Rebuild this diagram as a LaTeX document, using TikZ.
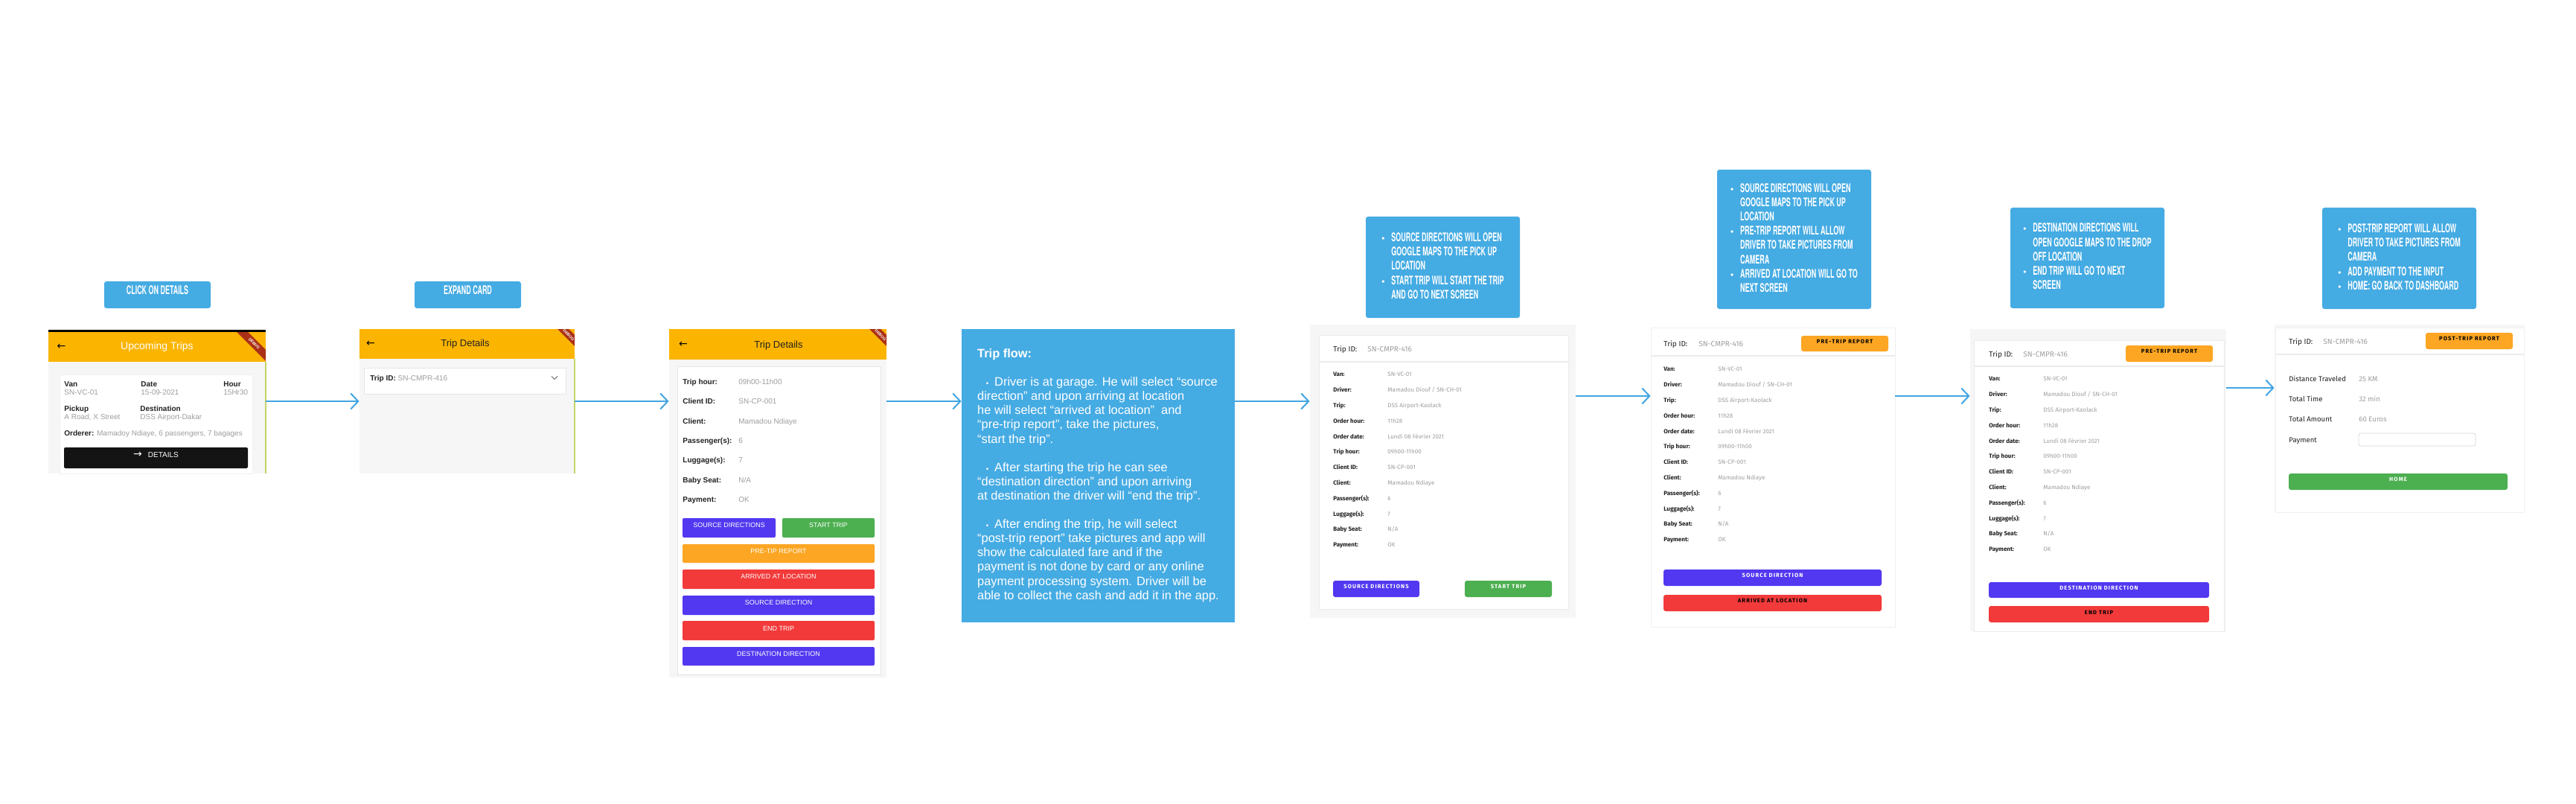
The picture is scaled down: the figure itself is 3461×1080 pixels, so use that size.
\documentclass[tikz,border=0pt]{standalone}
\usepackage{fontspec}
\setmainfont{Liberation Sans}
\newfontfamily\notefont[FakeStretch=0.56]{TeX Gyre Heros}
\newfontfamily\appfont{Fira Sans}
\newfontfamily\btnfont[LetterSpace=15]{Fira Sans}
\newfontfamily\symfont{DejaVu Sans}
\usetikzlibrary{positioning,fit,arrows.meta}

\definecolor{noteblue}{RGB}{69,171,227}
\definecolor{arrowblue}{RGB}{66,165,225}
\definecolor{bar}{RGB}{251,180,0}
\definecolor{ribbon}{RGB}{170,48,24}
\definecolor{appbg}{RGB}{246,246,246}
\definecolor{valgray}{RGB}{158,158,158}
\definecolor{labelink}{RGB}{34,34,34}
\definecolor{btnpurple}{RGB}{82,56,240}
\definecolor{btngreen}{RGB}{76,175,80}
\definecolor{btnorange}{RGB}{252,166,35}
\definecolor{btnred}{RGB}{242,58,58}
\definecolor{edgegreen}{RGB}{196,212,100}

\newcommand{\notebullet}{\makebox[6.5pt][l]{\normalfont\fontsize{6}{6}\selectfont\textbullet}}
\newcommand{\noteindent}{\makebox[6.5pt]{}}
\newcommand{\flowbullet}{\makebox[11.5pt][r]{\scalebox{0.6}{\textbullet}\hspace{4pt}}}

\begin{document}
\begin{tikzpicture}[x=0.5pt, y=-0.5pt,
    note/.style={fill=noteblue, rounded corners=1.5pt, inner sep=0pt, text=white,
      font=\notefont\bfseries\fontsize{8}{9.6}\selectfont},
    screen/.style={fill=appbg, inner sep=0pt},
    btn/.style={fill=#1, rounded corners=1pt, inner sep=0pt, text=white, font=\fontsize{4.5}{5}\selectfont},
    appbtn/.style={fill=#1, rounded corners=1.5pt, inner sep=0pt, text=white, font=\btnfont\bfseries\fontsize{3.8}{4}\selectfont},
    icon/.style={inner sep=0pt, font=\symfont\fontsize{7}{8}\selectfont},
    title/.style={inner sep=0pt, font=\fontsize{6.5}{8}\selectfont},
    lab/.style={anchor=base west, inner sep=0pt, text=labelink, font=\bfseries\fontsize{5}{6}\selectfont},
    val/.style={anchor=base west, inner sep=0pt, text=valgray, font=\fontsize{5}{6}\selectfont},
    appid/.style={anchor=base west, inner sep=0pt, text=labelink, font=\appfont\fontsize{5}{6}\selectfont},
    applab/.style={anchor=base west, inner sep=0pt, text=labelink, font=\appfont\bfseries\fontsize{4}{5}\selectfont},
    appval/.style={anchor=base west, inner sep=0pt, text=valgray, font=\appfont\fontsize{4}{5}\selectfont},
    link/.style={draw=arrowblue, line width=1pt, -{Straight Barb[length=5pt,width=10.5pt]}}]

\fill[white] (0,0) rectangle (3461,1080);
\useasboundingbox (0,0) rectangle (3461,1080);

% notes above the screens
\node[note, fit={(140,378) (283,414)}] (ClickNote) {CLICK ON DETAILS};
\node[note, fit={(557,378) (700,414)}] (ExpandNote) {EXPAND CARD};
\node[note, minimum width=103.5pt, minimum height=68pt] (StartNote) at (1938.5,359) {\begin{tabular}{@{}l@{}}
  \notebullet SOURCE DIRECTIONS WILL OPEN\\ \noteindent GOOGLE MAPS TO THE PICK UP\\ \noteindent LOCATION\\
  \notebullet START TRIP WILL START THE TRIP\\ \noteindent AND GO TO NEXT SCREEN\end{tabular}};
\node[note, minimum width=103.5pt, minimum height=93.5pt] (ArrivedNote) at (2410.5,321.5) {\begin{tabular}{@{}l@{}}
  \notebullet SOURCE DIRECTIONS WILL OPEN\\ \noteindent GOOGLE MAPS TO THE PICK UP\\ \noteindent LOCATION\\
  \notebullet PRE-TRIP REPORT WILL ALLOW\\ \noteindent DRIVER TO TAKE PICTURES FROM\\ \noteindent CAMERA\\
  \notebullet ARRIVED AT LOCATION WILL GO TO\\ \noteindent NEXT SCREEN\end{tabular}};
\node[note, minimum width=103.5pt, minimum height=67.5pt] (EndNote) at (2804.5,346.5) {\begin{tabular}{@{}l@{}}
  \notebullet DESTINATION DIRECTIONS WILL\\ \noteindent OPEN GOOGLE MAPS TO THE DROP\\ \noteindent OFF LOCATION\\
  \notebullet END TRIP WILL GO TO NEXT\\ \noteindent SCREEN\end{tabular}};
\node[note, minimum width=103.5pt, minimum height=68pt] (PostNote) at (3223.5,347) {\begin{tabular}{@{}l@{}}
  \notebullet POST-TRIP REPORT WILL ALLOW\\ \noteindent DRIVER TO TAKE PICTURES FROM\\ \noteindent CAMERA\\
  \notebullet ADD PAYMENT TO THE INPUT\\ \notebullet HOME: GO BACK TO DASHBOARD\end{tabular}};

% screen 1: upcoming trips
\node[screen, fit={(65,443) (357,636)}] (Upcoming) {};
\fill[black] (65,443) rectangle (357,446.5);
\fill[bar] (65,446) rectangle (357,486);
\begin{scope}
  \clip (65,446) rectangle (357,636);
  \fill[ribbon] (318,446) -- (333,446) -- (357,470) -- (357,485) -- cycle;
  \node[rotate=-45, inner sep=0pt, text=white, font=\bfseries\fontsize{2.6}{3}\selectfont] (DebugA) at (341.5,461.5) {DEBUG};
\end{scope}
\node[icon] (BackA) at (82.5,466) {←};
\node[title, text=white, font=\fontsize{7}{8}\selectfont] (TitleA) at (211,466) {Upcoming Trips};
\filldraw[fill=white, draw=black!6] (80,503) rectangle (339,636);
\node[lab] (VanA) at (86,519.6) {Van};
\node[val] (VanB) at (86,530.6) {SN-VC-01};
\node[lab] (DateA) at (189,519.6) {Date};
\node[val] (DateB) at (189,530.6) {15-09-2021};
\node[lab] (HourA) at (300,519.6) {Hour};
\node[val] (HourB) at (300,530.6) {15Hr30};
\node[lab] (PickA) at (86,552.6) {Pickup};
\node[val] (PickB) at (86,563.6) {A Road, X Street};
\node[lab] (DestA) at (188,552.6) {Destination};
\node[val] (DestB) at (188,563.6) {DSS Airport-Dakar};
\node[lab] (OrderA) at (86,585.6) {Orderer: \textcolor{valgray}{\mdseries Mamadoy Ndiaye, 6 passengers, 7 bagages}};
\node[btn=black!92, fit={(86,601) (333,629)}, font=\fontsize{5}{6}\selectfont] (DetailsBtn) {{\symfont\fontsize{7}{7}\selectfont →}\hspace{4pt}DETAILS};
\draw[edgegreen, line width=0.6pt] (357,486) -- (357,636);

% screen 2: trip details, card closed
\node[screen, fit={(483,442) (772,636)}] (Expand) {};
\fill[bar] (483,442) rectangle (772,482);
\begin{scope}
  \clip (483,442) rectangle (772,482);
  \fill[ribbon] (741,434) -- (756,434) -- (780,458) -- (780,473) -- cycle;
  \node[rotate=-45, inner sep=0pt, text=white, font=\bfseries\fontsize{2.6}{3}\selectfont] (DebugB) at (764,450) {DEBUG};
\end{scope}
\node[icon] (BackB) at (498,462) {←};
\node[title, text=labelink] (TitleB) at (625,462) {Trip Details};
\filldraw[fill=white, draw=black!10] (489,494) rectangle (760,529);
\node[lab] (TripIdB) at (497,511.5) {Trip ID: \textcolor{valgray}{\mdseries SN-CMPR-416}};
\draw[black!60, line width=0.5pt] (741,505.5) -- (745,509.5) -- (749,505.5);
\draw[edgegreen, line width=0.6pt] (772,482) -- (772,636);

% screen 3: trip details, card open
\node[screen, fit={(899,442) (1191,910)}] (Details) {};
\fill[bar] (899,442) rectangle (1191,483);
\begin{scope}
  \clip (899,442) rectangle (1191,483);
  \fill[ribbon] (1160,434) -- (1175,434) -- (1199,458) -- (1199,473) -- cycle;
  \node[rotate=-45, inner sep=0pt, text=white, font=\bfseries\fontsize{2.6}{3}\selectfont] (DebugC) at (1183,450) {DEBUG};
\end{scope}
\node[icon] (BackC) at (918,463) {←};
\node[title, text=labelink] (TitleC) at (1046,464) {Trip Details};
\filldraw[fill=white, draw=black!10] (910,492) rectangle (1183,906);
\foreach \lab/\val [count=\i from 0] in {Trip hour:/09h00-11h00, Client ID:/SN-CP-001, Client:/Mamadou Ndiaye, Passenger(s):/6, Luggage(s):/7, Baby Seat:/{N/A}, Payment:/OK} {
  \node[lab] (DetLab\i) at (917,{516.6+26.3*\i}) {\lab};
  \node[val] (DetVal\i) at (992,{516.6+26.3*\i}) {\val};
}
\node[btn=btnpurple, fit={(917,696) (1042,722)}] (SrcBtnA) {SOURCE DIRECTIONS};
\node[btn=btngreen, fit={(1051,696) (1175,722)}] (StartBtnA) {START TRIP};
\node[btn=btnorange, fit={(917,731) (1175,756)}] (PreBtnA) {PRE-TIP REPORT};
\node[btn=btnred, fit={(917,765) (1175,791)}] (ArrBtnA) {ARRIVED AT LOCATION};
\node[btn=btnpurple, fit={(917,800) (1175,826)}] (SrcTwoBtnA) {SOURCE DIRECTION};
\node[btn=btnred, fit={(917,834) (1175,860)}] (EndBtnA) {END TRIP};
\node[btn=btnpurple, fit={(917,869) (1175,894)}] (DestBtnA) {DESTINATION DIRECTION};

% trip flow
\node[note, rounded corners=0pt, minimum width=183.5pt, minimum height=197pt, font=\fontsize{8.2}{9.55}\selectfont] (Flow) at (1475.5,639) {\begin{tabular}{@{}l@{}}
{\bfseries Trip flow:}\\[9.55pt]
\flowbullet Driver is at garage. He will select “source\\
direction” and upon arriving at location\\
he will select “arrived at location”\ \ and\\
“pre-trip report”, take the pictures,\\
“start the trip”.\\[9.55pt]
\flowbullet After starting the trip he can see\\
“destination direction” and upon arriving\\
at destination the driver will “end the trip”.\\[9.55pt]
\flowbullet After ending the trip, he will select\\
“post-trip report” take pictures and app will\\
show the calculated fare and if the\\
payment is not done by card or any online\\
payment processing system. Driver will be\\
able to collect the cash and add it in the app.\end{tabular}};

% screen 5: start trip
\node[screen, fit={(1760,436) (2117,830)}] (Start) {};
\filldraw[fill=white, draw=black!8] (1772,450) rectangle (2107,818);
\node[appid] (StartId) at (1791,472.4) {Trip ID:};
\node[appid, text=valgray] (StartIdVal) at (1837,472.4) {SN-CMPR-416};
\draw[black!8, line width=1pt] (1772,486) -- (2107,486);
\node[appbtn=btnpurple, fit={(1791,780) (1907,802)}] (SrcBtnB) {SOURCE DIRECTIONS};
\node[appbtn=btngreen, fit={(1968,780) (2085,802)}] (StartBtnB) {START TRIP};

% screen 6: arrived at location
\node[fill=white, draw=black!6, inner sep=0pt, fit={(2218,440) (2546,842)}] (Arrived) {};
\node[appid] (ArrivedId) at (2235,465.4) {Trip ID:};
\node[appid, text=valgray] (ArrivedIdVal) at (2282,465.4) {SN-CMPR-416};
\node[appbtn=btnorange, text=black, fit={(2420,451) (2537,472)}] (PreBtnC) {PRE-TRIP REPORT};
\draw[black!8, line width=1pt] (2218,478) -- (2546,478);
\node[appbtn=btnpurple, fit={(2235,765) (2528,787)}] (SrcBtnC) {SOURCE DIRECTION};
\node[appbtn=btnred, text=black, fit={(2235,799) (2528,821)}] (ArrBtnC) {ARRIVED AT LOCATION};

% screen 7: end trip
\node[screen, fit={(2647,442) (2991,848)}] (EndTrip) {};
\filldraw[fill=white, draw=black!8] (2652,457) rectangle (2988,848);
\node[appid] (EndId) at (2672,479.4) {Trip ID:};
\node[appid, text=valgray] (EndIdVal) at (2718,479.4) {SN-CMPR-416};
\node[appbtn=btnorange, text=black, fit={(2856,464) (2973,486)}] (PreBtnD) {PRE-TRIP REPORT};
\draw[black!8, line width=1pt] (2652,492) -- (2988,492);
\node[appbtn=btnpurple, fit={(2672,782) (2968,803)}] (DestBtnD) {DESTINATION DIRECTION};
\node[appbtn=btnred, text=black, fit={(2672,814) (2968,836)}] (EndBtnD) {END TRIP};

% rows shared by screens 5, 6 and 7
\foreach \sx/\sy/\sn in {1791/503/Start, 2235/496/Arrived, 2672/509/End} {
  \foreach \lab/\val [count=\i from 0] in {Van:/SN-VC-01, Driver:/{Mamadou Diouf / SN-CH-01}, Trip:/DSS Airport-Kaolack, Order hour:/11h28, Order date:/Lundi 08 Février 2021, Trip hour:/09h00-11h00, Client ID:/SN-CP-001, Client:/Mamadou Ndiaye, Passenger(s):/6, Luggage(s):/7, Baby Seat:/{N/A}, Payment:/OK} {
    \node[applab] (\sn-lab-\i) at (\sx,{\sy+2.8+20.8*\i}) {\lab};
    \node[appval] (\sn-val-\i) at ({\sx+73},{\sy+2.8+20.8*\i}) {\val};
  }
}

% screen 8: post trip
\node[screen, fit={(3056,436) (3392,688)}] (PostTrip) {};
\filldraw[fill=white, draw=black!6] (3057,440) rectangle (3391,688);
\node[appid] (PostId) at (3075,462.4) {Trip ID:};
\node[appid, text=valgray] (PostIdVal) at (3121,462.4) {SN-CMPR-416};
\node[appbtn=btnorange, text=black, fit={(3259,447) (3376,469)}] (PostBtnE) {POST-TRIP REPORT};
\draw[black!8, line width=1pt] (3057,476) -- (3391,476);
\foreach \lab/\val [count=\i from 0] in {Distance Traveled/25 KM, Total Time/32 min, Total Amount/60 Euros, Payment/{}} {
  \node[appid, font=\appfont\fontsize{4.8}{6}\selectfont] (PostLab\i) at (3075,{512.3+27.3*\i}) {\lab};
  \node[appid, text=valgray, font=\appfont\fontsize{4.8}{6}\selectfont] (PostVal\i) at (3169,{512.3+27.3*\i}) {\val};
}
\node[fill=white, draw=black!15, rounded corners=1.5pt, inner sep=0pt, fit={(3169,582) (3326,599)}] (PayInput) {};
\node[appbtn=btngreen, fit={(3075,636) (3369,658)}] (HomeBtnE) {HOME};

% flow arrows
\coordinate (lineA) at (0,539);
\coordinate (lineB) at (0,532);
\coordinate (lineC) at (0,521);
\draw[link] (Upcoming.east |- lineA) -- (Expand.west |- lineA);
\draw[link] (Expand.east |- lineA) -- (Details.west |- lineA);
\draw[link] (Details.east |- lineA) -- (Flow.west |- lineA);
\draw[link] (Flow.east |- lineA) -- (Start.west |- lineA);
\draw[link] (Start.east |- lineB) -- (Arrived.west |- lineB);
\draw[link] (Arrived.east |- lineB) -- (EndTrip.west |- lineB);
\draw[link] (EndTrip.east |- lineC) -- (PostTrip.west |- lineC);
\end{tikzpicture}
\end{document}
